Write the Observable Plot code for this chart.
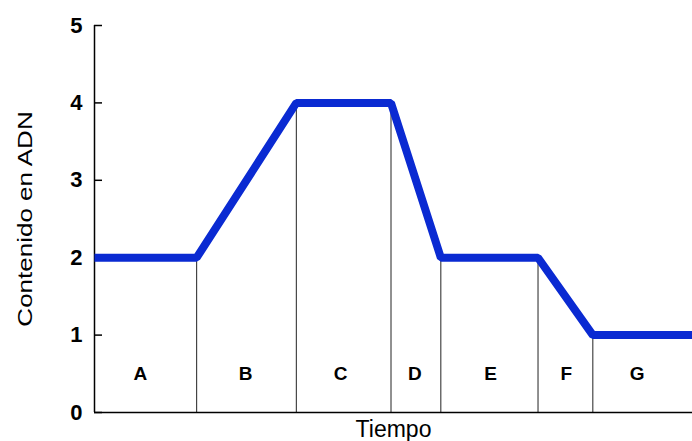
<!DOCTYPE html>
<html><head><meta charset="utf-8">
<script src="https://cdn.jsdelivr.net/npm/d3@7"></script>
<script src="https://cdn.jsdelivr.net/npm/@observablehq/plot@0.6"></script>
<style>body{margin:0;background:#fff}</style>
</head><body><div id="chart"></div>
<script>
const timePoints = [0, 2.05, 4.05, 5.95, 6.95, 8.9, 10, 12];
const dnaContent = [2, 2, 4, 4, 2, 2, 1, 1];
const dividerTimes = [2.05, 4.05, 5.95, 6.95, 8.9, 10];
const dividerTops = [2, 4, 4, 2, 2, 1];
const phaseLabels = ["A", "B", "C", "D", "E", "F", "G"];
const phaseLabelTimes = [0.92, 3.03, 4.94, 6.43, 7.95, 9.47, 10.89];
const phaseLabelLevel = 0.5;
const yTicks = [0, 1, 2, 3, 4, 5];
const yLabel = "Contenido en ADN";
const xLabel = "Tiempo";

const line = timePoints.map((t, i) => ({t, v: dnaContent[i]}));
const dividers = dividerTimes.map((t, i) => ({t, top: dividerTops[i]}));
const labels = phaseLabels.map((l, i) => ({l, t: phaseLabelTimes[i]}));

const plot = Plot.plot({
  width: 692, height: 441,
  marginTop: 25, marginBottom: 29, marginLeft: 94, marginRight: 0,
  style: {fontFamily: "'Liberation Sans', Arial, sans-serif", background: "#fff", color: "#000", overflow: "visible"},
  x: {domain: [0, 12], axis: null},
  y: {domain: [0, 5], axis: null},
  marks: [
    Plot.ruleX(dividers, {x: "t", y1: 0, y2: "top", stroke: "#222", strokeWidth: 1}),
    Plot.ruleX([0], {y1: 0, y2: 5, stroke: "#000", strokeWidth: 1.5}),
    Plot.ruleY([0], {stroke: "#000", strokeWidth: 1.5}),
    Plot.axisY(yTicks, {anchor: "left", tickSize: -8, tickPadding: 20, fontSize: 22, fontWeight: "bold", tickFormat: d => String(d), label: null, strokeWidth: 1.5}),
    Plot.lineY(line, {x: "t", y: "v", stroke: "#0a2ad2", strokeWidth: 8, strokeLinejoin: "miter", strokeLinecap: "butt"}),
    Plot.text(labels, {x: "t", y: phaseLabelLevel, text: "l", fontSize: 19, fontWeight: "bold", fill: "#000"}),
    Plot.text([xLabel], {frameAnchor: "bottom", lineAnchor: "top", dy: 8, fontSize: 23, fill: "#000"}),
    Plot.text([yLabel], {frameAnchor: "left", textAnchor: "middle", lineAnchor: "middle", rotate: -90, dx: -69, fontSize: 20, fill: "#000"})
  ]
});
document.getElementById("chart").appendChild(plot);
d3.select(plot).selectAll("text").filter(function() { return this.textContent === yLabel; })
  .attr("transform", function() { return (this.getAttribute("transform") || "") + " scale(1.3,1)"; });
</script>
</body></html>
